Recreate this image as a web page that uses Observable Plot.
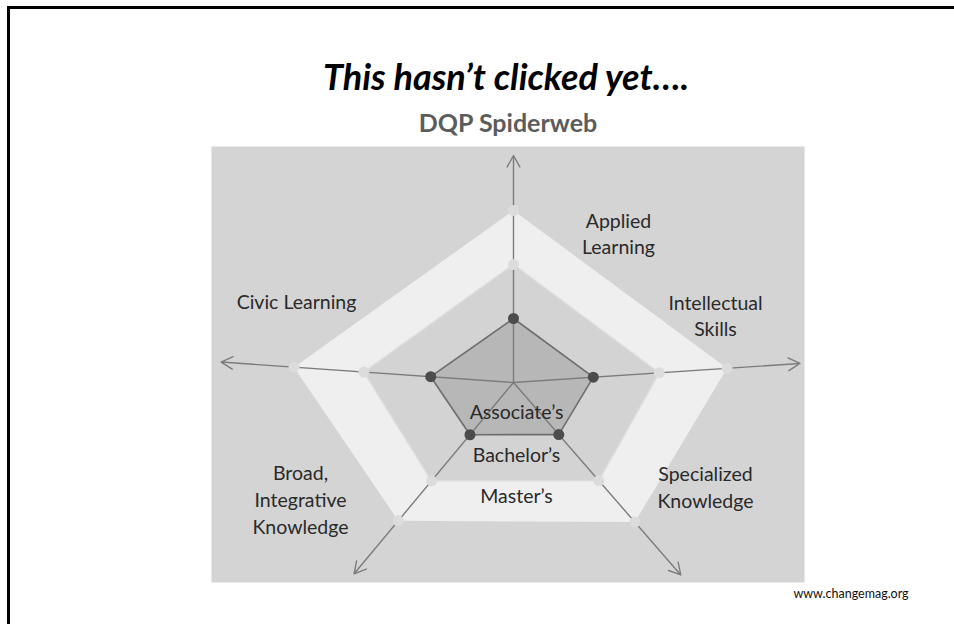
<!DOCTYPE html>
<html>
<head>
<meta charset="utf-8">
<script src="https://cdn.jsdelivr.net/npm/d3@7"></script>
<script src="https://cdn.jsdelivr.net/npm/@observablehq/plot@0.6"></script>
<style>
  html, body { margin: 0; padding: 0; background: #fff; }
  #page { position: relative; width: 954px; height: 624px; overflow: hidden; font-family: Lato, "Open Sans", sans-serif; }
  #frame { position: absolute; left: 7px; top: 6px; width: 960px; height: 640px; border-top: 3px solid #000; border-left: 3px solid #000; }
  .t { position: absolute; white-space: nowrap; line-height: 1; transform: translateX(-50%); }
  #title { left: 506px; top: 58px; font-size: 36px; font-weight: 700; font-style: italic; color: #000; }
  #subtitle { left: 508px; top: 110px; font-size: 25px; font-weight: 700; color: #5c5c5c; }
  #caption { left: 851px; top: 588px; font-size: 12.5px; color: #111; }
  #chart { position: absolute; left: 211px; top: 146px; }
</style>
</head>
<body>
<div id="page">
  <div id="frame"></div>
  <div id="title" class="t">This hasn’t clicked yet….</div>
  <div id="subtitle" class="t">DQP Spiderweb</div>
  <div id="chart"></div>
  <div id="caption" class="t">www.changemag.org</div>
</div>
<script>
// ---- data (radius units = pixels from the web's centre) ----
const axes = ["Applied Learning", "Intellectual Skills", "Specialized Knowledge", "Broad, Integrative Knowledge", "Civic Learning"];
const axisLabels = ["Applied\nLearning", "Intellectual\nSkills", "Specialized\nKnowledge", "Broad,\nIntegrative\nKnowledge", "Civic Learning"];
const axisAngles = [90, 3.8, -49, -129.8, 176];          // direction of each spoke, degrees
const axisLength = [227, 287, 255, 249, 293];            // spoke length incl. arrow
const levels = ["Master’s", "Bachelor’s", "Associate’s"];
const mastersValues = [172, 214, 185, 180, 220];
const bachelorsValues = [118, 146, 130, 128, 150];
const associatesValues = [64, 80, 69, 68, 83];

// ---- layout (label placement only) ----
const labelAt = [[105, 149.5], [202, 67.5], [192, -103], [-213, -116], [-217, 81.5]];
const labelLineHeight = [1.3, 1.32, 1.4, 1.38, 1.3];
const levelLabelAt = [[3, -114.7], [3, -73], [3, -30.5]];

const rad = a => a * Math.PI / 180;
const levelValues = [mastersValues, bachelorsValues, associatesValues];
const levelFill = ["#efefef", "#d3d3d3", "#b7b7b7"];
const points = levels.flatMap((lvl, i) =>
  axes.map((ax, j) => ({level: lvl, axis: ax, x: levelValues[i][j] * Math.cos(rad(axisAngles[j])), y: levelValues[i][j] * Math.sin(rad(axisAngles[j]))}))
);
const spokes = axes.map((ax, j) => ({axis: ax, x: axisLength[j] * Math.cos(rad(axisAngles[j])), y: axisLength[j] * Math.sin(rad(axisAngles[j]))}));
const labels = axes.map((ax, j) => ({text: axisLabels[j], x: labelAt[j][0], y: labelAt[j][1], lh: labelLineHeight[j]}));
const levelLabels = levels.map((l, i) => ({text: l, x: levelLabelAt[i][0], y: levelLabelAt[i][1]}));

const marks = [Plot.frame({fill: "#d4d4d4", stroke: "none"})];
levels.forEach((lvl, i) => {
  marks.push(Plot.line(points.filter(d => d.level === lvl), {
    x: "x", y: "y", curve: "linear-closed", fill: levelFill[i],
    stroke: i === 2 ? "#6e6e6e" : (i === 1 ? "#dcdcdc" : "none"), strokeWidth: i === 2 ? 1.6 : 1.5
  }));
});
marks.push(Plot.arrow(spokes, {x1: d => 0, y1: d => 0, x2: "x", y2: "y", stroke: "#7c7c7c", strokeWidth: 1.4, headLength: 14, headAngle: 58}));
marks.push(Plot.dot(points.filter(d => d.level !== "Associate’s"), {x: "x", y: "y", r: 5.5, fill: "#dcdcdc", stroke: "none"}));
marks.push(Plot.dot(points.filter(d => d.level === "Associate’s"), {x: "x", y: "y", r: 5.5, fill: "#4c4c4c", stroke: "none"}));
labels.forEach(l => marks.push(Plot.text([l], {x: "x", y: "y", text: "text", fontSize: 19.5, lineHeight: l.lh, fill: "#2a2a2a", textAnchor: "middle", lineAnchor: "middle"})));
marks.push(Plot.text(levelLabels, {x: "x", y: "y", text: "text", fontSize: 19.5, fill: "#2a2a2a", textAnchor: "middle", lineAnchor: "middle"}));

const chart = Plot.plot({
  width: 593, height: 436, margin: 0,
  x: {domain: [-302, 291], axis: null},
  y: {domain: [-200, 236], axis: null},
  style: {fontFamily: "Lato, 'Open Sans', sans-serif", background: "transparent", overflow: "visible"},
  marks
});
document.getElementById("chart").appendChild(chart);
</script>
</body>
</html>
